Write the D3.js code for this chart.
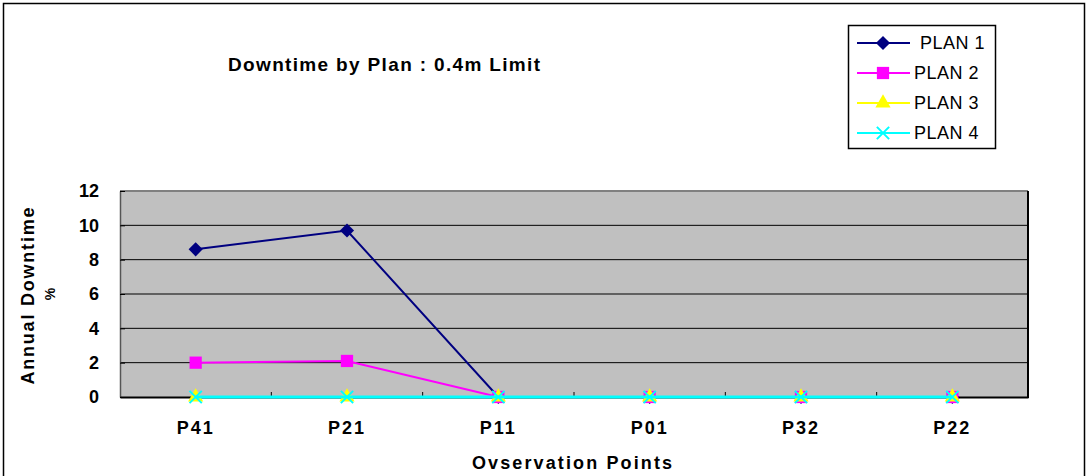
<!DOCTYPE html>
<html><head><meta charset="utf-8">
<script src="https://cdn.jsdelivr.net/npm/d3@7"></script>
<style>
html,body{margin:0;padding:0;background:#fff;}
svg{display:block;}
text{font-family:"Liberation Sans",Arial,sans-serif;}
</style></head>
<body><svg id="c" width="1089" height="476"></svg>
<script>
const categories = ["P41","P21","P11","P01","P32","P22"];
const seriesNames = ["PLAN 1","PLAN 2","PLAN 3","PLAN 4"];
const plan1 = [8.6, 9.7, 0, 0, 0, 0];
const plan2 = [2.0, 2.1, 0, 0, 0, 0];
const plan3 = [0, 0, 0, 0, 0, 0];
const plan4 = [0, 0, 0, 0, 0, 0];
const yTicks = [0,2,4,6,8,10,12];
const colors = ["#000080","#FF00FF","#FFFF00","#00FFFF"];
const symbols = ["diamond","square","triangle","cross"];
const seriesData = [plan1, plan2, plan3, plan4];

const svg = d3.select("#c");
svg.append("rect").attr("x",3.5).attr("y",3.5).attr("width",1081).attr("height",480)
  .attr("fill","#fff").attr("stroke","#000").attr("stroke-width",1.5);

const L=120, R=1028, T=191, B=397;
const x = d3.scaleBand().domain(categories).range([L,R]);
const y = d3.scaleLinear().domain([0,12]).range([B,T]);

// plot area
svg.append("rect").attr("x",L).attr("y",T).attr("width",R-L).attr("height",B-T).attr("fill","#C0C0C0");
// gridlines
svg.append("g").selectAll("line").data(yTicks.filter(d=>d>0)).join("line")
  .attr("x1",L).attr("x2",R).attr("y1",d=>y(d)).attr("y2",d=>y(d))
  .attr("stroke",d=>d===12?"#808080":"#000").attr("stroke-width",d=>d===12?2:1);
svg.append("line").attr("x1",R).attr("x2",R).attr("y1",T).attr("y2",B+1).attr("stroke","#000").attr("stroke-width",2);

// y axis (inside ticks)
const ya = svg.append("g").attr("transform",`translate(${L},0)`)
  .call(d3.axisLeft(y).tickValues(yTicks).tickSizeInner(-5).tickSizeOuter(0).tickPadding(21));
ya.select(".domain").attr("stroke","#555").attr("stroke-width",1.5);
ya.selectAll(".tick line").attr("stroke","#000");
ya.selectAll("text").attr("font-size",18).attr("font-weight","bold").attr("fill","#000");

// x axis
const xa = svg.append("g").attr("transform",`translate(0,${B})`)
  .call(d3.axisBottom(x).tickSize(0).tickPadding(24));
xa.select(".domain").attr("stroke","#000").attr("stroke-width",2);
xa.selectAll("text").attr("font-size",18).attr("font-weight","bold").attr("fill","#000")
  .attr("letter-spacing","2px");
// inside tick marks between categories
svg.append("g").selectAll("line").data(categories.slice(1)).join("line")
  .attr("x1",d=>x(d)).attr("x2",d=>x(d)).attr("y1",B).attr("y2",B-5)
  .attr("stroke","#000").attr("stroke-width",1);

// series
const line = d3.line().x((d,i)=>x(categories[i])+x.bandwidth()/2).y(d=>y(d));
const symGen = {
  diamond: d3.symbol().type(d3.symbolSquare).size(100),
  square: d3.symbol().type(d3.symbolSquare).size(150),
  triangle: d3.symbol().type(d3.symbolTriangle).size(100),
  cross: d3.symbol().type(d3.symbolX).size(100)
};
const rot = si => si===0 ? " rotate(45)" : "";
seriesData.forEach((vals,si)=>{
  const g = svg.append("g");
  g.append("path").datum(vals).attr("d",line).attr("fill","none")
    .attr("stroke",colors[si]).attr("stroke-width", si===3?3:2);
  g.selectAll("path.m").data(vals).join("path").attr("class","m")
    .attr("transform",(d,i)=>`translate(${x(categories[i])+x.bandwidth()/2},${y(d)})${rot(si)}`)
    .attr("d",symGen[symbols[si]]())
    .attr("fill",si===3?"none":colors[si])
    .attr("stroke",colors[si]).attr("stroke-width",si===3?2:0);
});

// title
svg.append("text").attr("x",228).attr("y",71).attr("font-size",19).attr("font-weight","bold")
  .style("font-family","'Liberation Sans Narrow','Liberation Sans',Arial,sans-serif")
  .attr("textLength",312).attr("lengthAdjust","spacing").text("Downtime by Plan : 0.4m Limit");

// axis titles
svg.append("text").attr("x",572).attr("y",469).attr("text-anchor","middle")
  .attr("font-size",18).attr("font-weight","bold").attr("textLength",200).attr("lengthAdjust","spacing")
  .text("Ovservation Points");
svg.append("text").attr("transform","translate(34,296) rotate(-90)").attr("text-anchor","middle")
  .attr("font-size",18).attr("font-weight","bold").attr("textLength",177).attr("lengthAdjust","spacing")
  .text("Annual Downtime");
svg.append("text").attr("transform","translate(55,294) rotate(-90)").attr("text-anchor","middle")
  .attr("font-size",14).attr("font-weight","bold").text("%");

// legend
const lg = svg.append("g");
lg.append("rect").attr("x",848.5).attr("y",25.5).attr("width",147).attr("height",123)
  .attr("fill","#fff").attr("stroke","#000").attr("stroke-width",1.5);
seriesNames.forEach((n,si)=>{
  const yy = 43 + si*30;
  lg.append("line").attr("x1",857).attr("x2",910).attr("y1",yy).attr("y2",yy)
    .attr("stroke",colors[si]).attr("stroke-width",2);
  lg.append("path").attr("transform",`translate(883,${yy})${rot(si)}`).attr("d",symGen[symbols[si]]())
    .attr("fill",si===3?"none":colors[si]).attr("stroke",colors[si]).attr("stroke-width",si===3?2:0);
  lg.append("text").attr("x",si===0?920:914).attr("y",yy+6).attr("font-size",18)
    .attr("letter-spacing","0.5px").text(n);
});
</script></body></html>
